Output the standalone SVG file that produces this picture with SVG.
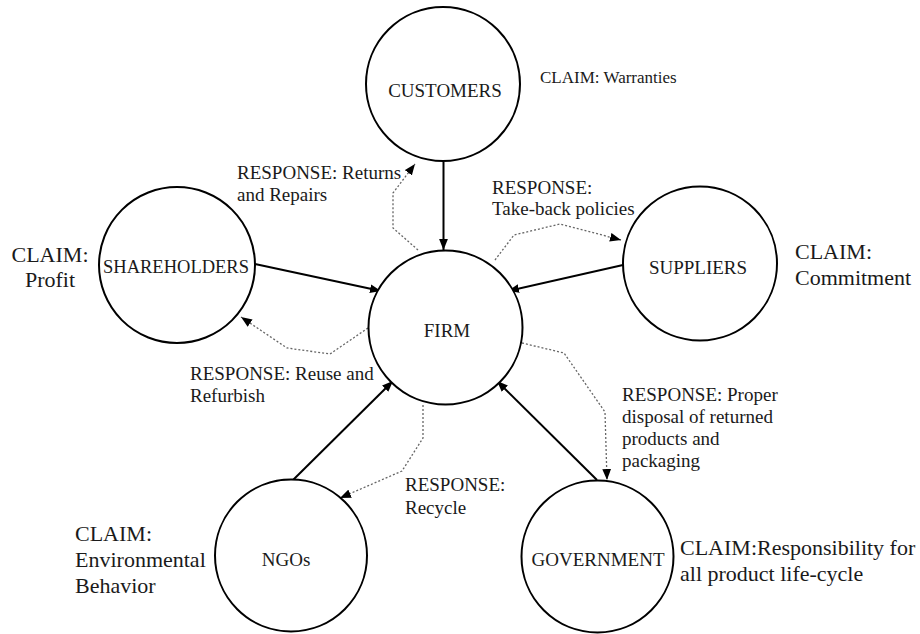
<svg xmlns="http://www.w3.org/2000/svg" width="920" height="634" viewBox="0 0 920 634">
<style>
  .node { fill: #fff; stroke: #000; stroke-width: 2; }
  .lbl { font-family: "Liberation Serif", "Times New Roman", serif; font-size: 19px; fill: #1a1a1a; text-anchor: middle; }
  .claim { font-family: "Liberation Serif", "Times New Roman", serif; font-size: 22px; fill: #1a1a1a; }
  .resp { font-family: "Liberation Serif", "Times New Roman", serif; font-size: 19px; fill: #1a1a1a; }
  .solid { fill: none; stroke: #000; stroke-width: 2; marker-end: url(#ah); }
  .dot { fill: none; stroke: #666; stroke-width: 1.3; stroke-dasharray: 2 2; marker-end: url(#ahs); }
</style>
<defs>
  <marker id="ah" viewBox="0 0 10 8" refX="10" refY="4" markerWidth="11" markerHeight="9" orient="auto" markerUnits="userSpaceOnUse">
    <path d="M0,0 L10,4 L0,8 z" fill="#000"/>
  </marker>
  <marker id="ahs" viewBox="0 0 10 8" refX="10" refY="4" markerWidth="11" markerHeight="9" orient="auto" markerUnits="userSpaceOnUse">
    <path d="M0,0 L10,4 L0,8 z" fill="#000"/>
  </marker>
</defs>
<rect width="920" height="634" fill="#fff"/>

<g id="connectors">
  <path class="solid" d="M443.5,162 L443.5,250"/>
  <path class="solid" d="M255,264 L381,291"/>
  <path class="solid" d="M623,265 L508,291"/>
  <path class="solid" d="M293,480 L393,381"/>
  <path class="solid" d="M597,480 L497,381"/>
  <path class="dot" d="M418,250 L393,228 L393,193 L415,164"/>
  <path class="dot" d="M495,260 L514,235 L560,224 L621,240"/>
  <path class="dot" d="M368,328 L330,354 L287,348 L241,317"/>
  <path class="dot" d="M423,405 L423,438 L402,471 L340,498"/>
  <path class="dot" d="M522,343 L564,353 L605,412 L607,480"/>
</g>

<g id="customers">
  <circle class="node" cx="443" cy="84" r="77"/>
  <text class="lbl" x="445" y="97">CUSTOMERS</text>
</g>
<g id="shareholders">
  <circle class="node" cx="177" cy="265" r="78"/>
  <text class="lbl" x="176" y="273" style="font-size:18.5px">SHAREHOLDERS</text>
</g>
<g id="firm">
  <circle class="node" cx="445.5" cy="327.5" r="77"/>
  <text class="lbl" x="447" y="337">FIRM</text>
</g>
<g id="suppliers">
  <circle class="node" cx="700" cy="263.5" r="77"/>
  <text class="lbl" x="698" y="274">SUPPLIERS</text>
</g>
<g id="ngos">
  <circle class="node" cx="291" cy="555.5" r="76"/>
  <text class="lbl" x="286" y="566">NGOs</text>
</g>
<g id="government">
  <circle class="node" cx="597.5" cy="556.5" r="76"/>
  <text class="lbl" x="598" y="566">GOVERNMENT</text>
</g>

<g id="claims">
  <text class="claim" x="540" y="83" style="font-size:17px">CLAIM: Warranties</text>
  <text class="claim" x="50" y="262" text-anchor="middle">CLAIM:</text>
  <text class="claim" x="50" y="287" text-anchor="middle">Profit</text>
  <text class="claim" x="795" y="259">CLAIM:</text>
  <text class="claim" x="795" y="285">Commitment</text>
  <text class="claim" x="75" y="541">CLAIM:</text>
  <text class="claim" x="75" y="567">Environmental</text>
  <text class="claim" x="75" y="593">Behavior</text>
  <text class="claim" x="680" y="555">CLAIM:Responsibility for</text>
  <text class="claim" x="680" y="581">all product life-cycle</text>
</g>

<g id="responses">
  <text class="resp" x="237" y="179">RESPONSE: Returns</text>
  <text class="resp" x="237" y="201">and Repairs</text>
  <text class="resp" x="492" y="194">RESPONSE:</text>
  <text class="resp" x="492" y="215">Take-back policies</text>
  <text class="resp" x="190" y="380">RESPONSE: Reuse and</text>
  <text class="resp" x="190" y="402">Refurbish</text>
  <text class="resp" x="622" y="401">RESPONSE: Proper</text>
  <text class="resp" x="622" y="423">disposal of returned</text>
  <text class="resp" x="622" y="445">products and</text>
  <text class="resp" x="622" y="467">packaging</text>
  <text class="resp" x="405" y="491">RESPONSE:</text>
  <text class="resp" x="405" y="514">Recycle</text>
</g>
</svg>
